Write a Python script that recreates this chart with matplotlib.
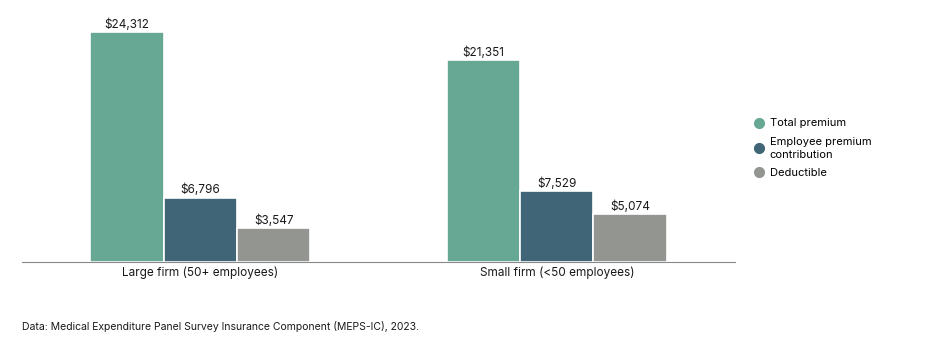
import matplotlib
matplotlib.use("Agg")
import matplotlib.pyplot as plt
from matplotlib.lines import Line2D
import numpy as np

plt.rcParams['font.family'] = ['Inter', 'DejaVu Sans']

categories = ["Large firm (50+ employees)", "Small firm (<50 employees)"]
series_names = ["Total premium", "Employee premium\ncontribution", "Deductible"]
total_premium = [24312, 21351]
employee_contribution = [6796, 7529]
deductible = [3547, 5074]
colors = ["#66A893", "#3F6577", "#939690"]

fig = plt.figure(figsize=(9.36, 3.47), dpi=100)
ax = fig.add_axes([22/936, 85/347, 713/936, (262-10)/347])

x = np.arange(len(categories))
w = 0.206
series = [total_premium, employee_contribution, deductible]
for i, (vals, c) in enumerate(zip(series, colors)):
    pos = x + (i - 1) * w
    bars = ax.bar(pos, vals, width=w, color=c, edgecolor="white", linewidth=1.2)
    for b, v in zip(bars, vals):
        ax.text(b.get_x() + b.get_width()/2, v + 120, f"${v:,}", ha="center", va="bottom",
                fontsize=8.5, color="#1a1a1a")

ax.set_xlim(-0.5, 1.5)
ax.set_ylim(0, 26600)
ax.set_xticks(x)
ax.set_xticklabels(categories, fontsize=8.5, color="#1a1a1a")
ax.tick_params(axis="x", length=0, pad=3)
ax.set_yticks([])
for s in ["top", "right", "left"]:
    ax.spines[s].set_visible(False)
ax.spines["bottom"].set_color("#888888")
ax.spines["bottom"].set_linewidth(0.8)

handles = [Line2D([0], [0], marker="o", linestyle="none", markersize=7,
                  markerfacecolor=c, markeredgecolor=c) for c in colors]
leg = fig.legend(handles, series_names, loc="upper left", bbox_to_anchor=(749/936, 1 - 114/347),
                 frameon=False, fontsize=8, handletextpad=0.45, labelspacing=0.75,
                 handlelength=1.0, borderaxespad=0)
for t in leg.get_texts():
    t.set_linespacing(1.35)

fig.text(22/936, 1 - 327/347, "Data: Medical Expenditure Panel Survey Insurance Component (MEPS-IC), 2023.",
         fontsize=7.5, color="#1a1a1a", va="center", ha="left")

fig.savefig("out.png", dpi=100)
